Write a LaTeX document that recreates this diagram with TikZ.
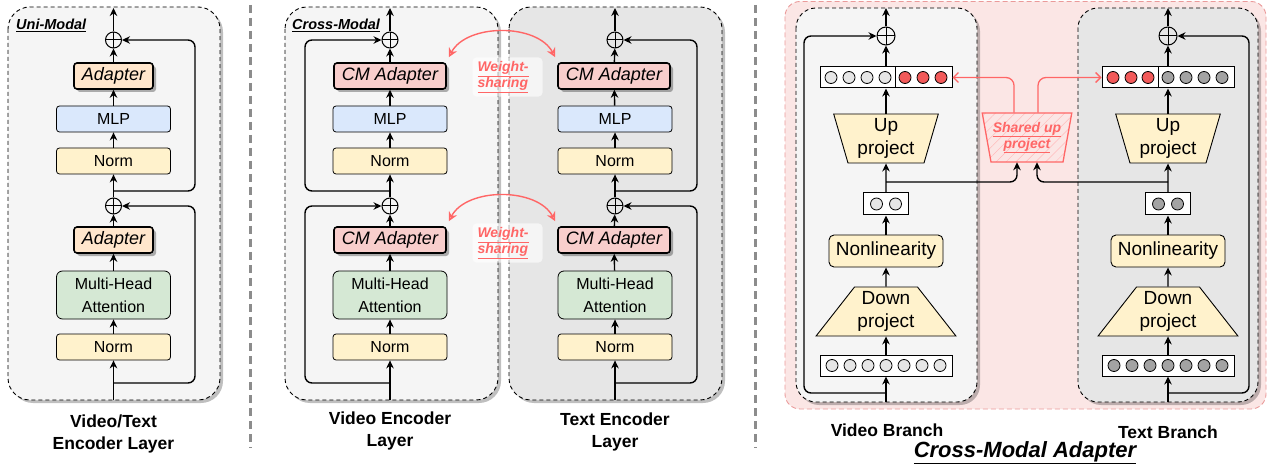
\documentclass[tikz,border=0pt]{standalone}
\usepackage{fontspec}
\setmainfont{Liberation Sans}
\usetikzlibrary{shapes.geometric,arrows.meta,shadows,patterns.meta}

\definecolor{normc}{HTML}{FFF2CC}
\definecolor{mlpc}{HTML}{DAE8FC}
\definecolor{attc}{HTML}{D5E8D4}
\definecolor{adpc}{HTML}{FFE6CC}
\definecolor{cmc}{HTML}{F8CECC}
\definecolor{redc}{HTML}{FF6666}
\definecolor{dotred}{HTML}{F25A5A}
\definecolor{lightc}{HTML}{F5F5F5}
\definecolor{darkc}{HTML}{E6E6E6}
\definecolor{dotgray}{HTML}{A3A3A3}
\definecolor{sepc}{HTML}{8C8C8C}
\definecolor{pinkline}{HTML}{EA9A9A}

\begin{document}
\begin{tikzpicture}[x=1pt,y=-1pt]
  \tikzset{>={Stealth[length=8pt,width=7.5pt]}}
  \tikzset{
    flow/.style={->,line width=1.4pt},
    skip/.style={->,line width=1.4pt,rounded corners=7pt},
    layer/.style={draw,dash pattern=on 4pt off 3pt,line width=0.9pt,rounded corners=22pt,
      drop shadow={shadow xshift=3pt,shadow yshift=-3pt,opacity=0.25,fill=black}},
    blk/.style={draw,line width=0.8pt,rounded corners=3pt,minimum width=114pt,minimum height=26pt,
      inner sep=0pt,align=center,font=\fontsize{16}{23}\selectfont},
    normblk/.style={blk,fill=normc},
    mlpblk/.style={blk,fill=mlpc},
    attblk/.style={blk,fill=attc,minimum height=48pt,rounded corners=6pt},
    adpblk/.style={blk,line width=1.6pt,font=\fontsize{18}{20}\selectfont\itshape,
      drop shadow={shadow xshift=3pt,shadow yshift=-3pt,opacity=0.3,fill=black}},
    sumnode/.style={circle,draw,line width=1pt,minimum size=16pt,inner sep=0pt,
      path picture={\draw[line width=1pt] (path picture bounding box.north) -- (path picture bounding box.south)
        (path picture bounding box.west) -- (path picture bounding box.east);}},
    tag/.style={anchor=west,inner sep=0pt,font=\fontsize{14.5}{16}\selectfont\bfseries\itshape},
    caption/.style={align=center,font=\fontsize{17.5}{21.5}\selectfont\bfseries},
    wshare/.style={{Stealth[open,length=9pt,width=9pt]}-{Stealth[open,length=9pt,width=9pt]},draw=redc,line width=1.4pt},
    wsbox/.style={fill=white,fill opacity=0.6,text opacity=1,rounded corners=4pt,text=redc,align=left,
      text width=60pt,inner xsep=5pt,inner ysep=4pt,font=\fontsize{14}{15}\selectfont\bfseries\itshape},
    vec/.style={draw,line width=1pt,fill=white,minimum height=21pt,inner sep=0pt},
    dot/.style={draw,line width=0.8pt},
    projblk/.style={trapezium,draw,line width=0.9pt,fill=normc,trapezium stretches=true,minimum height=49pt,
      inner sep=0pt,align=center,font=\fontsize{19}{23}\selectfont},
    upblk/.style={projblk,trapezium left angle=105,trapezium right angle=105,minimum width=105pt},
    downblk/.style={projblk,trapezium left angle=49,trapezium right angle=49,minimum width=140pt},
    actblk/.style={draw,line width=0.9pt,fill=normc,rounded corners=5pt,minimum width=114pt,minimum height=32pt,
      inner sep=0pt,font=\fontsize{19}{23}\selectfont},
    redflow/.style={-{Straight Barb[length=5pt,width=10pt]},draw=redc,line width=1.3pt,rounded corners=8pt}
  }
  \useasboundingbox (0,0) rectangle (1269,465);

  % separators
  \draw[sepc,line width=3pt,dash pattern=on 8pt off 5pt] (250,5) -- (250,448);
  \draw[sepc,line width=3pt,dash pattern=on 8pt off 5pt] (755,5) -- (755,448);

  % ---- uni-modal layer
  \draw[layer,fill=lightc] (8,7) rectangle (220,400);
  \node[tag] (tagU) at (16,25) {\underline{Uni-Modal}};

  \node[normblk] (UN1) at (113.5,347) {Norm};
  \node[attblk] (UH) at (113.5,295) {Multi-Head\\Attention};
  \node[adpblk,fill=adpc,minimum width=79pt] (UA1) at (113.5,240) {Adapter};
  \node[sumnode] (US1) at (113.5,206) {};
  \node[normblk] (UN2) at (113.5,161) {Norm};
  \node[mlpblk] (UM) at (113.5,119) {MLP};
  \node[adpblk,fill=adpc,minimum width=79pt] (UA2) at (113.5,76) {Adapter};
  \node[sumnode] (US2) at (113.5,40) {};
  \coordinate (UIn) at (113.5,400);
  \coordinate (UOut) at (113.5,8);
  \coordinate (UR1) at (113.5,383);
  \coordinate (UR2) at (113.5,191);

  \draw[flow] (UIn) -- (UN1);
  \draw[flow] (UN1) -- (UH);
  \draw[flow] (UH) -- (UA1);
  \draw[flow] (UA1) -- (US1);
  \draw[flow] (US1) -- (UN2);
  \draw[flow] (UN2) -- (UM);
  \draw[flow] (UM) -- (UA2);
  \draw[flow] (UA2) -- (US2);
  \draw[flow] (US2) -- (UOut);
  \draw[skip] (UR1) -| (195,206) -- (US1);
  \draw[skip] (UR2) -| (195,40) -- (US2);

  \node[caption] (capU) at (113.5,434) {Video/Text\\Encoder Layer};

  % ---- cross-modal layers
  \draw[layer,fill=lightc] (285,7) rectangle (498,400);
  \draw[layer,fill=darkc] (509,7) rectangle (722,400);
  \node[tag] (tagC) at (292,25) {\underline{Cross-Modal}};

  \node[normblk] (VN1) at (390,347) {Norm};
  \node[attblk] (VH) at (390,295) {Multi-Head\\Attention};
  \node[adpblk,fill=cmc,minimum width=112pt] (VA1) at (390,240) {CM Adapter};
  \node[sumnode] (VS1) at (390,206) {};
  \node[normblk] (VN2) at (390,161) {Norm};
  \node[mlpblk] (VM) at (390,119) {MLP};
  \node[adpblk,fill=cmc,minimum width=112pt] (VA2) at (390,76) {CM Adapter};
  \node[sumnode] (VS2) at (390,40) {};
  \coordinate (VIn) at (390,400);
  \coordinate (VOut) at (390,8);
  \coordinate (VR1) at (390,383);
  \coordinate (VR2) at (390,191);

  \draw[flow] (VIn) -- (VN1);
  \draw[flow] (VN1) -- (VH);
  \draw[flow] (VH) -- (VA1);
  \draw[flow] (VA1) -- (VS1);
  \draw[flow] (VS1) -- (VN2);
  \draw[flow] (VN2) -- (VM);
  \draw[flow] (VM) -- (VA2);
  \draw[flow] (VA2) -- (VS2);
  \draw[flow] (VS2) -- (VOut);
  \draw[skip] (VR1) -| (305,206) -- (VS1);
  \draw[skip] (VR2) -| (305,40) -- (VS2);

  \node[normblk] (TN1) at (615,347) {Norm};
  \node[attblk] (TH) at (615,295) {Multi-Head\\Attention};
  \node[adpblk,fill=cmc,minimum width=112pt] (TA1) at (614,240) {CM Adapter};
  \node[sumnode] (TS1) at (615,206) {};
  \node[normblk] (TN2) at (615,161) {Norm};
  \node[mlpblk] (TM) at (615,119) {MLP};
  \node[adpblk,fill=cmc,minimum width=112pt] (TA2) at (614,76) {CM Adapter};
  \node[sumnode] (TS2) at (615,40) {};
  \coordinate (TIn) at (615,400);
  \coordinate (TOut) at (615,8);
  \coordinate (TR1) at (615,383);
  \coordinate (TR2) at (615,191);

  \draw[flow] (TIn) -- (TN1);
  \draw[flow] (TN1) -- (TH);
  \draw[flow] (TH) -- (TA1);
  \draw[flow] (TA1) -- (TS1);
  \draw[flow] (TS1) -- (TN2);
  \draw[flow] (TN2) -- (TM);
  \draw[flow] (TM) -- (TA2);
  \draw[flow] (TA2) -- (TS2);
  \draw[flow] (TS2) -- (TOut);
  \draw[skip] (TR1) -| (697,206) -- (TS1);
  \draw[skip] (TR2) -| (697,40) -- (TS2);

  \node[wsbox] (W2) at (507.5,77) {\underline{Weight-}\\\underline{sharing}};
  \node[wsbox] (W1) at (507.5,243) {\underline{Weight-}\\\underline{sharing}};
  \draw[wshare] ([shift={(2,-5)}]VA2.north east) .. controls +(18,-34) and +(-18,-34) .. ([shift={(-2,-5)}]TA2.north west);
  \draw[wshare] ([shift={(2,-5)}]VA1.north east) .. controls +(18,-34) and +(-18,-34) .. ([shift={(-2,-5)}]TA1.north west);

  \node[caption] (capV) at (390,431) {Video Encoder\\Layer};
  \node[caption] (capT) at (615,432) {Text Encoder\\Layer};

  % ---- cross-modal adapter
  \draw[fill=cmc,fill opacity=0.5,draw=pinkline,dash pattern=on 5pt off 3pt,line width=0.9pt,rounded corners=15pt]
    (785,1.5) rectangle (1266,409);
  \draw[layer,fill=lightc,rounded corners=20pt] (796,8) rectangle (977,402);
  \draw[layer,fill=darkc,rounded corners=20pt] (1078,8) rectangle (1258,402);

  \node[vec,minimum width=132pt] (vIn) at (886,365.5) {};
  \node[downblk] (vDown) at (886,311.5) {Down\\project};
  \node[actblk] (vAct) at (886,251) {Nonlinearity};
  \node[vec,minimum width=45pt,minimum height=22pt] (vMid) at (886,204) {};
  \node[upblk] (vUp) at (886,138.5) {Up\\project};
  \node[vec,minimum width=132pt] (vOut) at (886,77.5) {};
  \node[sumnode,minimum size=18pt] (vSum) at (886,36) {};
  \coordinate (vBot) at (886,402);
  \coordinate (vTop) at (886,8);
  \coordinate (vRes) at (886,393);
  \coordinate (vJ) at (886,182);

  \node[vec,minimum width=132pt] (tIn) at (1168,365.5) {};
  \node[downblk] (tDown) at (1168,311.5) {Down\\project};
  \node[actblk] (tAct) at (1168,251) {Nonlinearity};
  \node[vec,minimum width=45pt,minimum height=22pt] (tMid) at (1168,204) {};
  \node[upblk] (tUp) at (1168,138.5) {Up\\project};
  \node[vec,minimum width=132pt] (tOut) at (1168,77.5) {};
  \node[sumnode,minimum size=18pt] (tSum) at (1168,36) {};
  \coordinate (tBot) at (1168,402);
  \coordinate (tTop) at (1168,8);
  \coordinate (tRes) at (1168,393);
  \coordinate (tJ) at (1168,182);

  % vector entries
  \foreach \xx in {832,850,868,886,904,922,940}
    \filldraw[dot,fill=darkc] (\xx,365.5) circle[radius=6pt];
  \foreach \xx in {876.5,895.5}
    \filldraw[dot,fill=darkc] (\xx,204) circle[radius=6pt];
  \foreach \xx in {831,849,867,885}
    \filldraw[dot,fill=darkc] (\xx,77.5) circle[radius=6pt];
  \foreach \xx in {905,923,941}
    \filldraw[dot,fill=dotred] (\xx,77.5) circle[radius=6pt];
  \draw[line width=1pt] (895,67) -- (895,88);

  \foreach \xx in {1114,1132,1150,1168,1186,1204,1222}
    \filldraw[dot,fill=dotgray] (\xx,365.5) circle[radius=6pt];
  \foreach \xx in {1158.5,1177.5}
    \filldraw[dot,fill=dotgray] (\xx,204) circle[radius=6pt];
  \foreach \xx in {1113,1131,1148}
    \filldraw[dot,fill=dotred] (\xx,77.5) circle[radius=6pt];
  \foreach \xx in {1168,1186,1204,1222}
    \filldraw[dot,fill=dotgray] (\xx,77.5) circle[radius=6pt];
  \draw[line width=1pt] (1158,67) -- (1158,88);

  \draw[flow] (vBot) -- (vIn);
  \draw[flow] (vIn) -- (vDown);
  \draw[flow] (vDown) -- (vAct);
  \draw[flow] (vAct) -- (vMid);
  \draw[flow] (vMid) -- (vUp);
  \draw[flow] (vUp) -- (vOut);
  \draw[flow] (vOut) -- (vSum);
  \draw[flow] (vSum) -- (vTop);
  \draw[skip] (vRes) -| (804,36) -- (vSum);

  \draw[flow] (tBot) -- (tIn);
  \draw[flow] (tIn) -- (tDown);
  \draw[flow] (tDown) -- (tAct);
  \draw[flow] (tAct) -- (tMid);
  \draw[flow] (tMid) -- (tUp);
  \draw[flow] (tUp) -- (tOut);
  \draw[flow] (tOut) -- (tSum);
  \draw[flow] (tSum) -- (tTop);
  \draw[skip] (tRes) -| (1249,36) -- (tSum);

  % shared up projection
  \node[trapezium,trapezium left angle=105,trapezium right angle=105,trapezium stretches=true,
    minimum width=90pt,minimum height=49pt,inner sep=0pt,draw=redc,line width=1.3pt,
    pattern={Lines[angle=45,distance=7pt,line width=0.5pt]},pattern color=redc!45,
    text=redc,align=center,font=\fontsize{14}{16}\selectfont\bfseries\itshape] (shUp) at (1027,137.5)
    {\underline{Shared up}\\\underline{project}};
  \draw[skip] (vJ) -| ([xshift=-10pt]shUp.south);
  \draw[skip] (tJ) -| ([xshift=10pt]shUp.south);
  \draw[redflow] ([xshift=-13pt]shUp.north) |- (vOut.east);
  \draw[redflow] ([xshift=11pt]shUp.north) |- (tOut.west);

  \node[caption] (capVB) at (887,430) {Video Branch};
  \node[caption] (capTB) at (1168,432) {Text Branch};
  \node[font=\fontsize{22}{24}\selectfont\bfseries\itshape] (capCM) at (1025,453) {\underline{Cross-Modal Adapter}};
\end{tikzpicture}
\end{document}
